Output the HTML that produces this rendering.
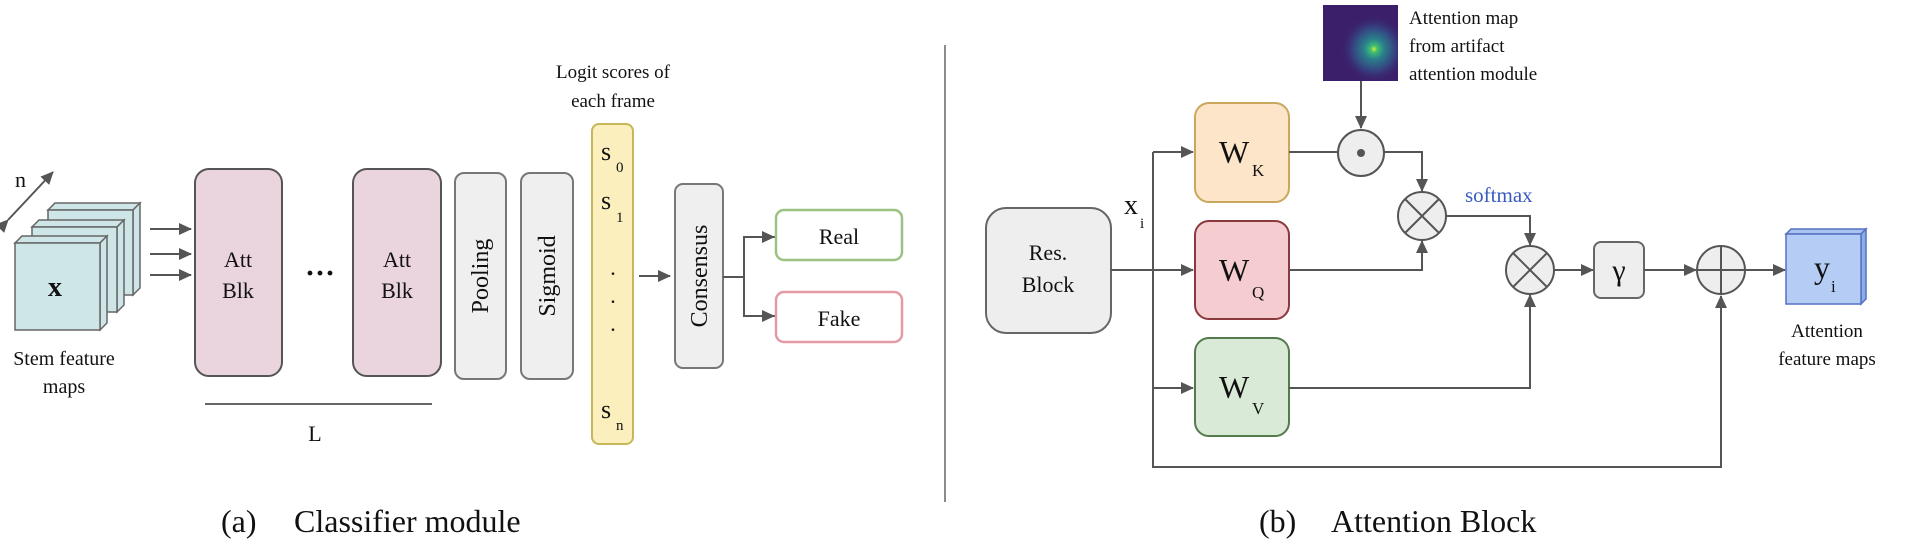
<!DOCTYPE html>
<html><head><meta charset="utf-8"><style>
html,body{margin:0;padding:0;background:#fff;}
svg{display:block;font-family:"Liberation Serif",serif;}
</style></head><body>
<svg width="1910" height="545" viewBox="0 0 1910 545" xmlns="http://www.w3.org/2000/svg">
<defs>
<marker id="ah" markerWidth="13" markerHeight="12" refX="12" refY="6" orient="auto" markerUnits="userSpaceOnUse"><path d="M0,0 L13,6 L0,12 z" fill="#555"/></marker>
<radialGradient id="hm1" cx="0.68" cy="0.58" r="0.45"><stop offset="0" stop-color="#d8e83a"/><stop offset="0.1" stop-color="#3fbf70"/><stop offset="0.3" stop-color="#2a7f8c"/><stop offset="0.65" stop-color="#36407f"/><stop offset="1" stop-color="#3b1f6a" stop-opacity="0"/></radialGradient>
</defs>
<g stroke="#555" stroke-width="2" fill="none">
<g fill="#cfe6e8" stroke="#666" stroke-width="1.5">
<polygon points="48,210 55,203 140,203 133,210"/><polygon points="133,210 140,203 140,288 133,295"/><rect x="48" y="210" width="85" height="85"/>
<polygon points="32,227 39,220 124,220 117,227"/><polygon points="117,227 124,220 124,305 117,312"/><rect x="32" y="227" width="85" height="85"/>
<polygon points="15,243 22,236 107,236 100,243"/><polygon points="100,243 107,236 107,323 100,330"/><rect x="15" y="243" width="85" height="87"/>
</g>
<line x1="8" y1="220" x2="53" y2="172" marker-start="url(#ah)" marker-end="url(#ah)"/>
<line x1="150" y1="229" x2="191" y2="229" marker-end="url(#ah)"/>
<line x1="150" y1="254" x2="191" y2="254" marker-end="url(#ah)"/>
<line x1="150" y1="275" x2="191" y2="275" marker-end="url(#ah)"/>
<rect x="195" y="169" width="87" height="207" rx="14" fill="#ead5df"/>
<rect x="353" y="169" width="88" height="207" rx="14" fill="#ead5df"/>
<rect x="455" y="173" width="51" height="206" rx="9" fill="#efefef" stroke="#777"/>
<rect x="521" y="173" width="52" height="206" rx="9" fill="#efefef" stroke="#777"/>
<rect x="592" y="124" width="41" height="320" rx="7" fill="#fbefbd" stroke="#c8b65a"/>
<line x1="205" y1="404" x2="432" y2="404" stroke="#666"/>
<line x1="639" y1="276" x2="670" y2="276" marker-end="url(#ah)"/>
<rect x="675" y="184" width="48" height="184" rx="8" fill="#efefef" stroke="#777"/>
<polyline points="723,277 744,277"/>
<polyline points="776,237 744,237 744,316 776,316"/>
<line x1="744" y1="237" x2="774" y2="237" marker-end="url(#ah)"/>
<line x1="744" y1="316" x2="774" y2="316" marker-end="url(#ah)"/>
<rect x="776" y="210" width="126" height="50" rx="8" fill="#fff" stroke="#9bc283" stroke-width="2.5"/>
<rect x="776" y="292" width="126" height="50" rx="8" fill="#fff" stroke="#e39aa5" stroke-width="2.5"/>
<line x1="945" y1="45" x2="945" y2="502" stroke="#666" stroke-width="1.5"/>
<rect x="1323" y="5" width="75" height="76" fill="#3b1f6a" stroke="none"/>
<rect x="1323" y="5" width="75" height="76" fill="url(#hm1)" stroke="none"/>
<line x1="1361" y1="81" x2="1361" y2="128" marker-end="url(#ah)"/>
<rect x="986" y="208" width="125" height="125" rx="20" fill="#eeeeee" stroke="#666"/>
<rect x="1195" y="103" width="94" height="99" rx="14" fill="#fde5c9" stroke="#c9a75c"/>
<rect x="1195" y="221" width="94" height="98" rx="14" fill="#f5cdd0" stroke="#8a3a3f"/>
<rect x="1195" y="338" width="94" height="98" rx="14" fill="#d9ead6" stroke="#557a4e"/>
<line x1="1111" y1="270" x2="1193" y2="270" marker-end="url(#ah)"/>
<polyline points="1153,152 1153,467 1721,467 1721,296"/>
<line x1="1721" y1="330" x2="1721" y2="296" marker-end="url(#ah)"/>
<line x1="1153" y1="152" x2="1193" y2="152" marker-end="url(#ah)"/>
<line x1="1153" y1="388" x2="1193" y2="388" marker-end="url(#ah)"/>
<line x1="1289" y1="152" x2="1338" y2="152"/>
<polyline points="1384,152 1422,152 1422,190"/>
<line x1="1422" y1="170" x2="1422" y2="191" marker-end="url(#ah)"/>
<polyline points="1289,270 1422,270 1422,242"/>
<line x1="1422" y1="255" x2="1422" y2="241" marker-end="url(#ah)"/>
<polyline points="1446,216 1530,216 1530,245"/>
<line x1="1530" y1="225" x2="1530" y2="245" marker-end="url(#ah)"/>
<polyline points="1289,388 1530,388 1530,296"/>
<line x1="1530" y1="310" x2="1530" y2="295" marker-end="url(#ah)"/>
<line x1="1554" y1="270" x2="1593" y2="270" marker-end="url(#ah)"/>
<rect x="1594" y="242" width="50" height="56" rx="7" fill="#eeeeee" stroke="#666"/>
<line x1="1644" y1="270" x2="1696" y2="270" marker-end="url(#ah)"/>
<line x1="1745" y1="270" x2="1785" y2="270" marker-end="url(#ah)"/>
<g fill="#eeeeee" stroke="#555">
<circle cx="1361" cy="153" r="23"/>
<circle cx="1422" cy="216" r="24"/>
<circle cx="1530" cy="270" r="24"/>
<circle cx="1721" cy="270" r="24"/>
</g>
<circle cx="1361" cy="153" r="4" fill="#555" stroke="none"/>
<path d="M1405,199 L1439,233 M1439,199 L1405,233 M1513,253 L1547,287 M1547,253 L1513,287 M1697,270 L1745,270 M1721,246 L1721,294"/>
<g stroke="#5570c0" stroke-width="1.5">
<polygon points="1786,234 1791,229 1866,229 1861,234" fill="#a8c4f0"/>
<polygon points="1861,234 1866,229 1866,299 1861,304" fill="#8aaee8"/>
<rect x="1786" y="234" width="75" height="70" fill="#b5cdf5"/>
</g>
</g>
<g fill="#111" font-size="22">
<text x="15" y="187">n</text>
<text x="55" y="296" font-size="28" font-weight="bold" text-anchor="middle">x</text>
<text x="64" y="365" text-anchor="middle" font-size="20">Stem feature</text>
<text x="64" y="393" text-anchor="middle" font-size="20">maps</text>
<text x="238" y="267" text-anchor="middle">Att</text>
<text x="238" y="298" text-anchor="middle">Blk</text>
<text x="397" y="267" text-anchor="middle">Att</text>
<text x="397" y="298" text-anchor="middle">Blk</text>
<text x="320" y="283" text-anchor="middle" font-size="30" font-weight="bold">···</text>
<text transform="translate(488,276) rotate(-90)" text-anchor="middle" font-size="24">Pooling</text>
<text transform="translate(555,276) rotate(-90)" text-anchor="middle" font-size="24">Sigmoid</text>
<text transform="translate(707,276) rotate(-90)" text-anchor="middle" font-size="24">Consensus</text>
<text x="613" y="78" text-anchor="middle" font-size="19">Logit scores of</text>
<text x="613" y="107" text-anchor="middle" font-size="19">each frame</text>
<text x="601" y="160" font-size="26">s</text><text x="616" y="172" font-size="15">0</text>
<text x="601" y="209" font-size="26">s</text><text x="616" y="222" font-size="15">1</text>
<text x="613" y="275" text-anchor="middle">.</text>
<text x="613" y="303" text-anchor="middle">.</text>
<text x="613" y="331" text-anchor="middle">.</text>
<text x="601" y="418" font-size="26">s</text><text x="616" y="430" font-size="15">n</text>
<text x="315" y="441" text-anchor="middle">L</text>
<text x="839" y="244" text-anchor="middle">Real</text>
<text x="839" y="326" text-anchor="middle">Fake</text>
<text x="221" y="532" font-size="32">(a)</text>
<text x="294" y="532" font-size="32">Classifier module</text>
<text x="1409" y="24" font-size="19">Attention map</text>
<text x="1409" y="52" font-size="19">from artifact</text>
<text x="1409" y="80" font-size="19">attention module</text>
<text x="1048" y="260" text-anchor="middle">Res.</text>
<text x="1048" y="292" text-anchor="middle">Block</text>
<text x="1124" y="214" font-size="28">x</text><text x="1140" y="228" font-size="15">i</text>
<text x="1219" y="163" font-size="32">W</text><text x="1252" y="176" font-size="17">K</text>
<text x="1219" y="281" font-size="32">W</text><text x="1252" y="298" font-size="17">Q</text>
<text x="1219" y="398" font-size="32">W</text><text x="1252" y="414" font-size="17">V</text>
<text x="1465" y="202" font-size="21" fill="#3a5bc0">softmax</text>
<text x="1619" y="280" text-anchor="middle" font-size="30">γ</text>
<text x="1814" y="278" font-size="32">y</text><text x="1831" y="292" font-size="17">i</text>
<text x="1827" y="337" text-anchor="middle" font-size="19">Attention</text>
<text x="1827" y="365" text-anchor="middle" font-size="19">feature maps</text>
<text x="1259" y="532" font-size="32">(b)</text>
<text x="1331" y="532" font-size="32">Attention Block</text>
</g>
</svg>
</body></html>
